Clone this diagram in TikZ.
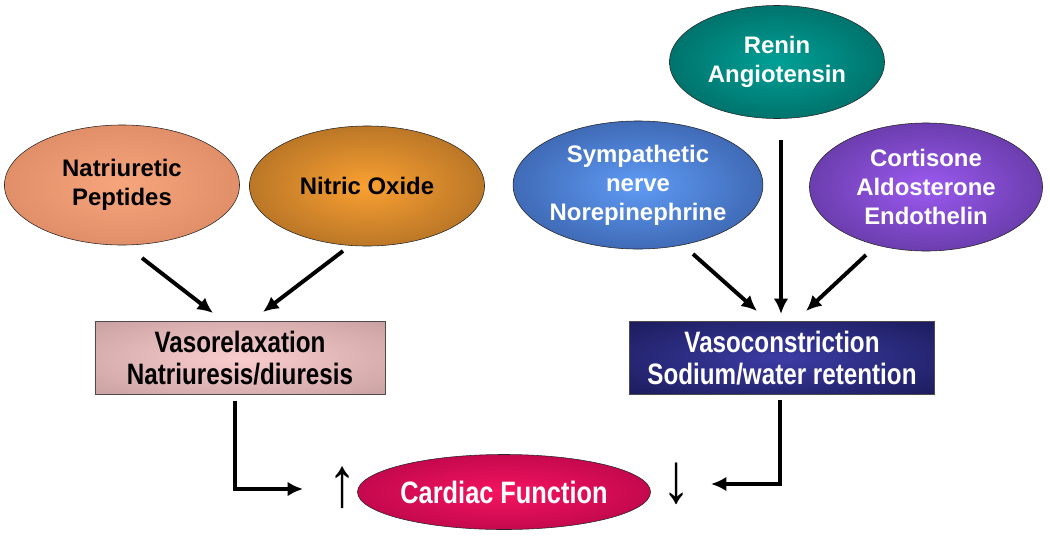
\documentclass[tikz,border=0pt]{standalone}
\usepackage{fontspec}
\setmainfont{Liberation Sans}
\newfontfamily\narrowfont{Liberation Sans}[FakeStretch=0.82]
\usetikzlibrary{arrows.meta}
\usetikzlibrary{shapes.geometric}

\colorlet{incol}{white}
\colorlet{outcol}{black}
\pgfdeclareradialshading[incol,outcol]{glow}{\pgfpoint{0bp}{0bp}}{color(0bp)=(incol); color(44bp)=(outcol); color(50bp)=(outcol)}

\definecolor{natriin}{RGB}{247,165,125}
\definecolor{natriout}{RGB}{208,126,88}
\definecolor{nitricin}{RGB}{250,160,50}
\definecolor{nitricout}{RGB}{140,88,30}
\definecolor{reninin}{RGB}{0,160,150}
\definecolor{reninout}{RGB}{0,82,78}
\definecolor{sympin}{RGB}{95,155,245}
\definecolor{sympout}{RGB}{40,70,135}
\definecolor{cortin}{RGB}{155,90,240}
\definecolor{cortout}{RGB}{72,40,125}
\definecolor{relaxin}{RGB}{250,205,205}
\definecolor{relaxout}{RGB}{190,150,150}
\definecolor{constrin}{RGB}{60,60,165}
\definecolor{constrout}{RGB}{20,20,75}
\definecolor{cardin}{RGB}{245,20,95}
\definecolor{cardout}{RGB}{160,0,65}

\tikzset{
  agent/.style 2 args={ellipse, draw=black!85, thin, shading=glow,
    /utils/exec={\colorlet{incol}{#1}\colorlet{outcol}{#2}},
    font=\fontsize{17}{20.5}\selectfont\bfseries, align=center, inner sep=0pt},
  effect/.style 2 args={rectangle, draw=black!70, thin, shading=glow,
    /utils/exec={\colorlet{incol}{#1}\colorlet{outcol}{#2}},
    font=\narrowfont\fontsize{21}{23}\selectfont\bfseries, align=center, inner sep=0pt},
  flow/.style={->, line width=2.8pt},
  trend/.style={inner sep=0pt, font=\fontsize{40}{40}\selectfont},
}

\begin{document}
\begin{tikzpicture}[x=0.025cm, y=-0.025cm, >={Latex[length=11pt,width=10.5pt]}]
\useasboundingbox (0,0) rectangle (1050,540);

% sources
\node(natri) at (122,185) [agent={natriin}{natriout}, minimum width=5.875cm, minimum height=3cm] {Natriuretic\\Peptides};
\node(nitric) at (367,186) [agent={nitricin}{nitricout}, minimum width=5.875cm, minimum height=3cm] {Nitric Oxide};
\node(renin) at (777,62) [agent={reninin}{reninout}, text=white, minimum width=5.375cm, minimum height=2.825cm] {Renin\\Angiotensin};
\node(symp) at (638,185) [agent={sympin}{sympout}, text=white, minimum width=5.75cm, minimum height=3.2cm] {Sympathetic\\nerve\\Norepinephrine};
\node(cort) at (926,187) [agent={cortin}{cortout}, text=white, minimum width=5.825cm, minimum height=3.2cm] {Cortisone\\Aldosterone\\Endothelin};

% effects
\node(relax) at (240,358) [effect={relaxin}{relaxout}, minimum width=7.25cm, minimum height=1.825cm] {Vasorelaxation\\Natriuresis/diuresis};
\node(constrict) at (782,358) [effect={constrin}{constrout}, text=white, minimum width=7.625cm, minimum height=1.825cm] {Vasoconstriction\\Sodium/water retention};
\node(cardiac) at (504,492) [agent={cardin}{cardout}, text=white, font=\narrowfont\fontsize{22}{24}\selectfont\bfseries, minimum width=6.3cm, minimum height=1.875cm] {Cardiac Function};
\node(up) at (343,488) [trend] {\scalebox{1}[1.25]{↑}};
\node(down) at (677,484) [trend] {\scalebox{1}[1.25]{↓}};

% arrow ends
\coordinate(a1) at (142,258);
\coordinate(a2) at (343,251);
\coordinate(r1) at (213,313);
\coordinate(r2) at (263,312);
\coordinate(a3) at (693,254);
\coordinate(a4) at (781,140);
\coordinate(a5) at (866,255);
\coordinate(r3) at (757,311);
\coordinate(r4) at (781,314);
\coordinate(r5) at (806,311);
\coordinate(b1) at (235,401);
\coordinate(b2) at (303,489);
\coordinate(b3) at (780,400);
\coordinate(b4) at (711,484);

% arrows
\draw[flow] (a1) -- (r1);
\draw[flow] (a2) -- (r2);
\draw[flow] (a3) -- (r3);
\draw[flow] (a4) -- (r4);
\draw[flow] (a5) -- (r5);
\draw[flow] (b1) |- (b2);
\draw[flow] (b3) |- (b4);

\end{tikzpicture}
\end{document}
